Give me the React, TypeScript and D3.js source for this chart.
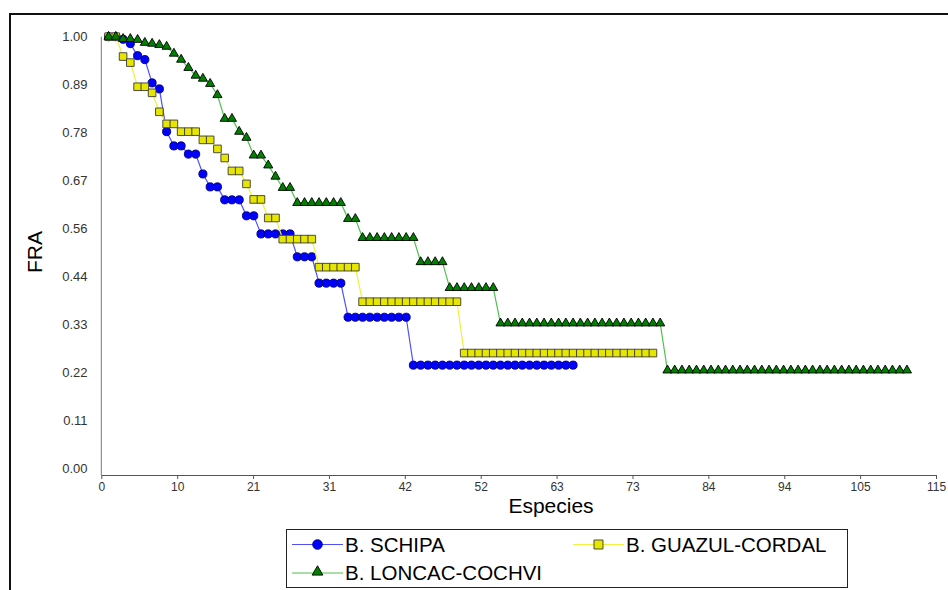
import React, { useEffect, useRef } from 'react';
import * as d3 from 'd3';

// FRA values per species count (x = 1, 2, 3, ...)
const schipa = [
  1.0, 1.0, 0.994, 0.984, 0.956, 0.947, 0.893, 0.879, 0.78, 0.747, 0.747, 0.728, 0.728, 0.682,
  0.652, 0.652, 0.622, 0.622, 0.622, 0.585, 0.585, 0.543, 0.543, 0.543, 0.543, 0.543, 0.49,
  0.49, 0.49, 0.429, 0.429, 0.429, 0.429, 0.35, 0.35, 0.35, 0.35, 0.35, 0.35, 0.35, 0.35, 0.35,
  0.239, 0.239, 0.239, 0.239, 0.239, 0.239, 0.239, 0.239, 0.239, 0.239, 0.239, 0.239, 0.239,
  0.239, 0.239, 0.239, 0.239, 0.239, 0.239, 0.239, 0.239, 0.239, 0.239,
];

const guazul = [
  1.0, 1.0, 0.954, 0.94, 0.884, 0.884, 0.87, 0.826, 0.798, 0.798, 0.78, 0.78, 0.78, 0.761, 0.761,
  0.74, 0.719, 0.689, 0.689, 0.659, 0.623, 0.623, 0.58, 0.58, 0.531, 0.531, 0.531, 0.531, 0.531,
  0.466, 0.466, 0.466, 0.466, 0.466, 0.466, 0.386, 0.386, 0.386, 0.386, 0.386, 0.386, 0.386,
  0.386, 0.386, 0.386, 0.386, 0.386, 0.386, 0.386, 0.267, 0.267, 0.267, 0.267, 0.267, 0.267,
  0.267, 0.267, 0.267, 0.267, 0.267, 0.267, 0.267, 0.267, 0.267, 0.267, 0.267, 0.267, 0.267,
  0.267, 0.267, 0.267, 0.267, 0.267, 0.267, 0.267, 0.267,
];

const loncac = [
  1.0, 1.0, 0.995, 0.995, 0.993, 0.986, 0.984, 0.981, 0.977, 0.961, 0.947, 0.928, 0.91, 0.903,
  0.891, 0.865, 0.81, 0.81, 0.78, 0.766, 0.725, 0.725, 0.702, 0.676, 0.65, 0.65, 0.615, 0.615,
  0.615, 0.615, 0.615, 0.615, 0.615, 0.578, 0.578, 0.534, 0.534, 0.534, 0.534, 0.534, 0.534,
  0.534, 0.534, 0.478, 0.478, 0.478, 0.478, 0.418, 0.418, 0.418, 0.418, 0.418, 0.418, 0.418,
  0.336, 0.336, 0.336, 0.336, 0.336, 0.336, 0.336, 0.336, 0.336, 0.336, 0.336, 0.336, 0.336,
  0.336, 0.336, 0.336, 0.336, 0.336, 0.336, 0.336, 0.336, 0.336, 0.336, 0.227, 0.227, 0.227,
  0.227, 0.227, 0.227, 0.227, 0.227, 0.227, 0.227, 0.227, 0.227, 0.227, 0.227, 0.227, 0.227,
  0.227, 0.227, 0.227, 0.227, 0.227, 0.227, 0.227, 0.227, 0.227, 0.227, 0.227, 0.227, 0.227,
  0.227, 0.227, 0.227, 0.227, 0.227,
];

const xTickLabels = ['0', '10', '21', '31', '42', '52', '63', '73', '84', '94', '105', '115'];
const yTickLabels = ['0.00', '0.11', '0.22', '0.33', '0.44', '0.56', '0.67', '0.78', '0.89', '1.00'];

interface Series {
  name: string;
  values: number[];
  line: string;
  fill: string;
  stroke: string;
  symbol: d3.SymbolType;
  size: number;
}

const series: Series[] = [
  { name: 'B. SCHIPA', values: schipa, line: '#5050ff', fill: '#0000ff', stroke: '#000070', symbol: d3.symbolCircle, size: 52 },
  { name: 'B. GUAZUL-CORDAL', values: guazul, line: '#f0f040', fill: '#e6e600', stroke: '#3a3a3a', symbol: d3.symbolSquare, size: 58 },
  { name: 'B. LONCAC-COCHVI', values: loncac, line: '#50c050', fill: '#008000', stroke: '#000000', symbol: d3.symbolTriangle, size: 36 },
];

const FONT = 'Liberation Sans, Arial, sans-serif';

const App: React.FC = () => {
  const svgRef = useRef<SVGSVGElement>(null);

  useEffect(() => {
    if (!svgRef.current) return;
    const width = 948;
    const height = 590;
    const svg = d3.select(svgRef.current).attr('width', width).attr('height', height);
    svg.selectAll('*').remove();

    const xMax = 115;
    const x = d3.scaleLinear().domain([0, xMax]).range([101.3, 936]);
    const y = d3.scaleLinear().domain([0, 1]).range([468.3, 36.7]);
    const axisY = 475;

    // outer frame
    svg
      .append('rect')
      .attr('x', 10)
      .attr('y', 14)
      .attr('width', 960)
      .attr('height', 620)
      .attr('fill', 'none')
      .attr('stroke', '#111')
      .attr('stroke-width', 2);

    // y axis (line + labels, no ticks)
    svg
      .append('line')
      .attr('x1', x(0))
      .attr('x2', x(0))
      .attr('y1', y(1))
      .attr('y2', axisY)
      .attr('stroke', '#777')
      .attr('stroke-width', 1);

    svg
      .append('g')
      .selectAll('text')
      .data(yTickLabels)
      .enter()
      .append('text')
      .attr('x', 87.5)
      .attr('y', (d, i) => y(i / (yTickLabels.length - 1)))
      .attr('dy', '0.35em')
      .attr('text-anchor', 'end')
      .attr('font-family', FONT)
      .attr('font-size', 13)
      .attr('fill', '#333')
      .text((d) => d);

    // x axis
    const xTickValues = xTickLabels.map((d, i) => (i * xMax) / (xTickLabels.length - 1));
    const xAxis = svg
      .append('g')
      .attr('transform', `translate(0,${axisY})`)
      .call(
        d3
          .axisBottom(x)
          .tickValues(xTickValues)
          .tickFormat((d, i) => xTickLabels[i])
          .tickSizeInner(4)
          .tickSizeOuter(0)
          .tickPadding(3),
      );
    xAxis.select('.domain').attr('stroke', '#555');
    xAxis.selectAll('.tick line').attr('stroke', '#555');
    xAxis
      .selectAll('.tick text')
      .attr('font-family', FONT)
      .attr('font-size', 12)
      .attr('fill', '#333');

    // axis titles
    svg
      .append('text')
      .attr('x', 551)
      .attr('y', 512.5)
      .attr('text-anchor', 'middle')
      .attr('font-family', FONT)
      .attr('font-size', 21)
      .attr('fill', '#000')
      .text('Especies');

    svg
      .append('text')
      .attr('transform', 'translate(42,252) rotate(-90)')
      .attr('text-anchor', 'middle')
      .attr('font-family', FONT)
      .attr('font-size', 21)
      .attr('fill', '#000')
      .text('FRA');

    // series
    const line = d3
      .line<number>()
      .x((d, i) => x(i + 1))
      .y((d) => y(d));

    series.forEach((s) => {
      const g = svg.append('g');
      g.append('path')
        .attr('d', line(s.values) ?? '')
        .attr('fill', 'none')
        .attr('stroke', s.line)
        .attr('stroke-width', 1.2);
      g.selectAll('path.pt')
        .data(s.values)
        .enter()
        .append('path')
        .attr('class', 'pt')
        .attr('transform', (d, i) => `translate(${x(i + 1)},${y(d)})`)
        .attr('d', d3.symbol().type(s.symbol).size(s.size)() ?? '')
        .attr('fill', s.fill)
        .attr('stroke', s.stroke)
        .attr('stroke-width', 0.9);
    });

    // legend
    const legend = svg.append('g');
    legend
      .append('rect')
      .attr('x', 286.5)
      .attr('y', 529.5)
      .attr('width', 561)
      .attr('height', 58)
      .attr('fill', '#fff')
      .attr('stroke', '#222')
      .attr('stroke-width', 1);

    const legendPos = [
      { lx: 292, ly: 544.5 },
      { lx: 573, ly: 544.5 },
      { lx: 292, ly: 573 },
    ];

    series.forEach((s, i) => {
      const { lx, ly } = legendPos[i];
      const item = legend.append('g').attr('transform', `translate(${lx},${ly})`);
      item
        .append('line')
        .attr('x1', 0)
        .attr('x2', 51)
        .attr('y1', 0)
        .attr('y2', 0)
        .attr('stroke', s.line)
        .attr('stroke-width', 1.2);
      item
        .append('path')
        .attr('transform', `translate(25.5,${s.symbol === d3.symbolTriangle ? -1 : 0})`)
        .attr('d', d3.symbol().type(s.symbol).size(s.size * 1.4)() ?? '')
        .attr('fill', s.fill)
        .attr('stroke', s.stroke)
        .attr('stroke-width', 0.9);
      item
        .append('text')
        .attr('x', 53)
        .attr('y', 7)
        .attr('font-family', FONT)
        .attr('font-size', 20.5)
        .attr('fill', '#000')
        .text(s.name);
    });
  }, []);

  return (
    <svg
      ref={svgRef}
      style={{ position: 'absolute', left: 0, top: 0, background: '#fff' }}
    ></svg>
  );
};

export default App;
